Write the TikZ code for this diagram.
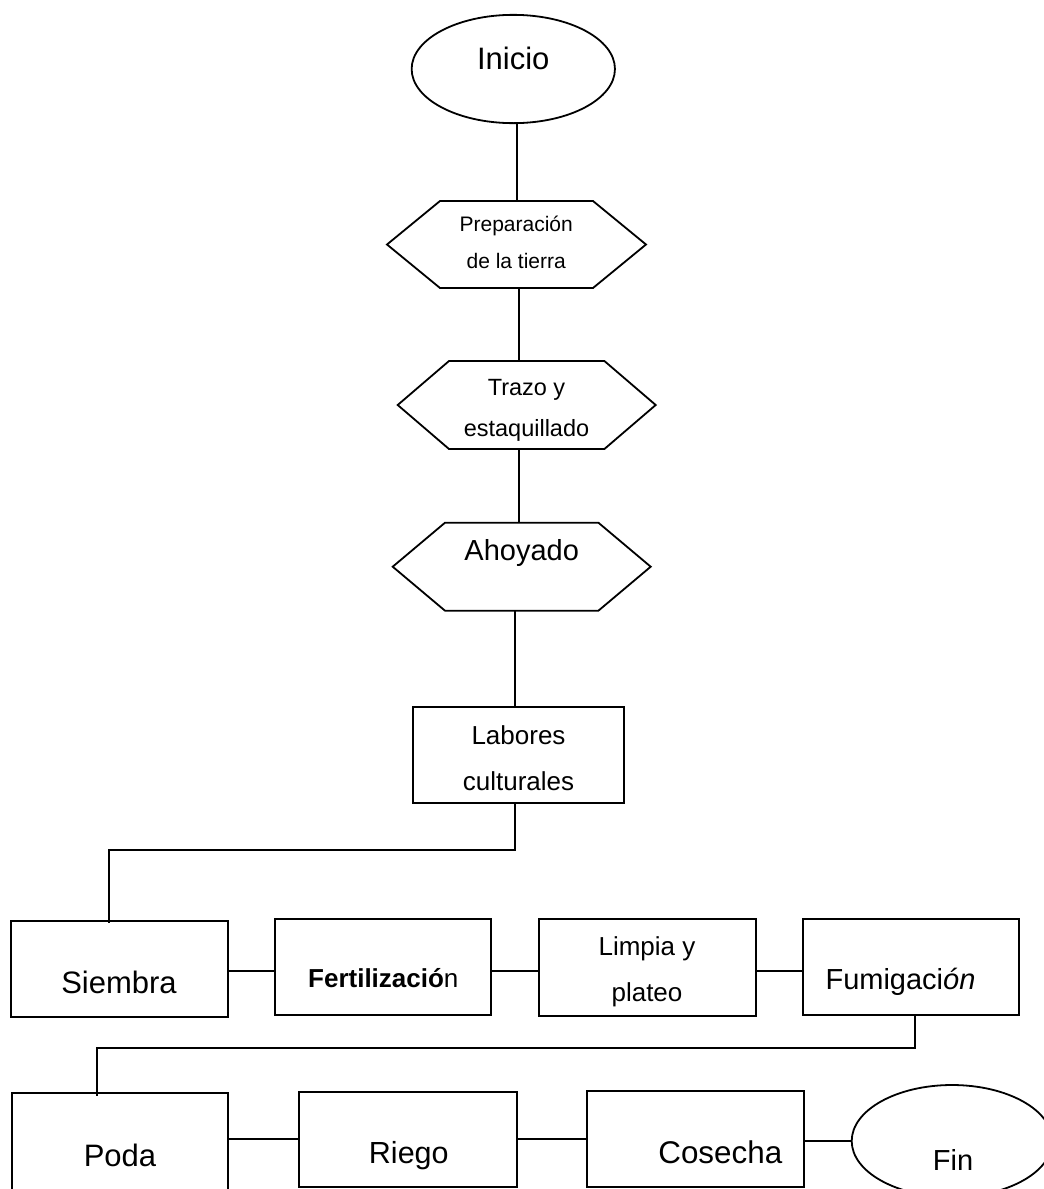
\documentclass[tikz,border=0pt]{standalone}
\usepackage{fontspec}
\setmainfont{Liberation Sans}
\usetikzlibrary{shapes.geometric}
\newcommand{\hexdraw}[2]{\draw[line join=miter] (#1.west) -- ([xshift=#2]#1.north west) -- ([xshift=-#2]#1.north east) -- (#1.east) -- ([xshift=-#2]#1.south east) -- ([xshift=#2]#1.south west) -- cycle;}
\begin{document}
\begin{tikzpicture}[x=1pt,y=-1pt, line width=1.8pt,
  box/.style={draw, rectangle, inner sep=0pt, outer sep=0pt},
  oval/.style={draw, ellipse, inner sep=0pt, outer sep=0pt},
  hexframe/.style={rectangle, inner sep=0pt, outer sep=0pt},
  lbl/.style={inner sep=0pt, anchor=base, text=black}]
\useasboundingbox (0,0) rectangle (1044,1189);
\clip (0,0) rectangle (1044,1189);
\fill[white] (0,0) rectangle (1044,1189);

% shapes
\node[oval, minimum width=203.3pt, minimum height=108.3pt] (inicio) at (513.3,69) {};
\node[hexframe, minimum width=259pt, minimum height=87pt] (prep) at (516.5,244.5) {};
\hexdraw{prep}{53pt}
\node[hexframe, minimum width=258pt, minimum height=88pt] (trazo) at (526.7,405) {};
\hexdraw{trazo}{51.3pt}
\node[hexframe, minimum width=258pt, minimum height=88pt] (ahoy) at (521.7,566.7) {};
\hexdraw{ahoy}{52.3pt}
\node[box, minimum width=211.6pt, minimum height=96.3pt] (labores) at (518.5,754.85) {};

\node[box, minimum width=216.7pt, minimum height=95.7pt] (siembra) at (119.35,968.85) {};
\node[box, minimum width=216pt, minimum height=95.7pt] (fert) at (383,967.15) {};
\node[box, minimum width=216.7pt, minimum height=96.4pt] (limpia) at (647.35,967.5) {};
\node[box, minimum width=216pt, minimum height=95.7pt] (fumig) at (911.3,967.15) {};

\node[box, minimum width=216pt, minimum height=100pt] (poda) at (119.7,1143.3) {};
\node[box, minimum width=217.4pt, minimum height=95.6pt] (riego) at (408,1139.5) {};
\node[box, minimum width=216.7pt, minimum height=95.7pt] (cosecha) at (695.65,1138.85) {};
\node[oval, minimum width=200.6pt, minimum height=112pt] (fin) at (952,1141) {};

% helper coordinates for connector heights
\coordinate (r1) at (0,970.7);
\coordinate (r2) at (0,1139);

% connectors
\draw ([xshift=3.4pt]inicio.south) -- ([xshift=0.2pt]prep.north);
\draw ([xshift=2.5pt]prep.south) -- ([xshift=-7.7pt]trazo.north);
\draw ([xshift=-7.7pt]trazo.south) -- ([xshift=-2.7pt]ahoy.north);
\draw ([xshift=-6.7pt]ahoy.south) -- ([xshift=-3.5pt]labores.north);
\draw ([xshift=-3.5pt]labores.south) -- ++(0,47) -| ([xshift=-10.35pt,yshift=-2pt]siembra.north);
\draw (siembra.east |- r1) -- (fert.west |- r1);
\draw (fert.east |- r1) -- (limpia.west |- r1);
\draw (limpia.east |- r1) -- (fumig.west |- r1);
\draw ([xshift=4pt]fumig.south) -- ++(0,33) -| ([xshift=-22.4pt,yshift=-3pt]poda.north);
\draw (poda.east |- r2) -- (riego.west |- r2);
\draw (riego.east |- r2) -- (cosecha.west |- r2);
\draw (cosecha.east |- fin.west) -- (fin.west);

% labels
\node[lbl, font=\fontsize{31}{31}\selectfont] (tinicio) at (513.3,69.3) {Inicio};
\node[lbl, font=\fontsize{21}{21}\selectfont] (tprep1) at (516.2,231.7) {Preparación};
\node[lbl, font=\fontsize{21}{21}\selectfont] (tprep2) at (516.2,268.3) {de la tierra};
\node[lbl, font=\fontsize{23.5}{23.5}\selectfont] (ttrazo1) at (526.5,395.7) {Trazo y};
\node[lbl, font=\fontsize{23.5}{23.5}\selectfont] (ttrazo2) at (526.5,436) {estaquillado};
\node[lbl, font=\fontsize{29}{29}\selectfont] (tahoy) at (521.7,560.7) {Ahoyado};
\node[lbl, font=\fontsize{26}{26}\selectfont] (tlab1) at (518.5,744) {Labores};
\node[lbl, font=\fontsize{26}{26}\selectfont] (tlab2) at (518.5,790) {culturales};
\node[lbl, font=\fontsize{31}{31}\selectfont] (tsiembra) at (119,993) {Siembra};
\node[lbl, font=\fontsize{26}{26}\selectfont] (tfert) at (383.3,987) {\textbf{Fertilizació}n};
\node[lbl, font=\fontsize{26}{26}\selectfont] (tlimp1) at (647,955) {Limpia y};
\node[lbl, font=\fontsize{26}{26}\selectfont] (tlimp2) at (647,1001) {plateo};
\node[lbl, font=\fontsize{29}{29}\selectfont] (tfumig) at (900.5,989) {Fumigaci\textit{ón}};
\node[lbl, font=\fontsize{31}{31}\selectfont] (tpoda) at (120,1166) {Poda};
\node[lbl, font=\fontsize{30.5}{30.5}\selectfont] (triego) at (408.8,1163) {Riego};
\node[lbl, font=\fontsize{31.4}{31.4}\selectfont] (tcosecha) at (720.3,1163.3) {Cosecha};
\node[lbl, font=\fontsize{29}{29}\selectfont] (tfin) at (953,1170) {Fin};
\end{tikzpicture}
\end{document}
